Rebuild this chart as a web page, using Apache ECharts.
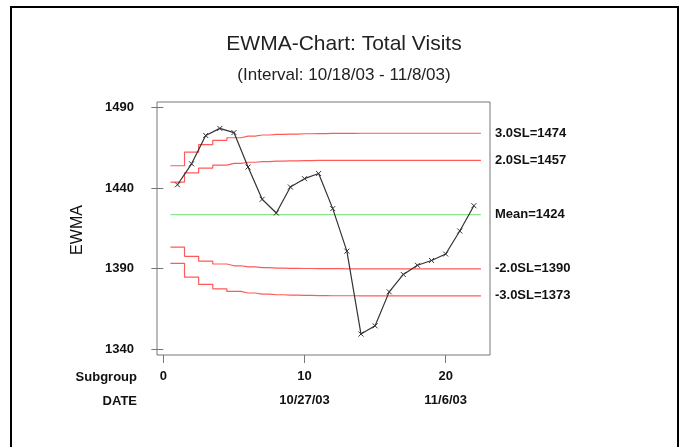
<!DOCTYPE html>
<html>
<head>
<meta charset="utf-8">
<script src="https://cdn.jsdelivr.net/npm/echarts@6/dist/echarts.min.js"></script>
<style>
html,body{margin:0;padding:0;background:#fff;}
#chart{width:683px;height:447px;}
</style>
</head>
<body>
<div id="chart"></div>
<script>
// ---- data ----
var subgroups = [1,2,3,4,5,6,7,8,9,10,11,12,13,14,15,16,17,18,19,20,21,22];
var ewma = [1442, 1455, 1472.6, 1477, 1474.4, 1453, 1433, 1424.5, 1440.6, 1445.8, 1449, 1427.2, 1400.8, 1349.3, 1354.4, 1375.5, 1386.3, 1392, 1395, 1399, 1413.3, 1429];
var ucl3 = [1453.8,1462.3,1466.9,1469.6,1471.2,1472.2,1472.9,1473.3,1473.5,1473.7,1473.8,1473.9,1473.9,1474,1474,1474,1474,1474,1474,1474,1474,1474];
var ucl2 = [1443.7,1449.4,1452.4,1454.2,1455.3,1456.0,1456.4,1456.7,1456.9,1457.0,1457.1,1457.1,1457.2,1457.2,1457.2,1457.2,1457.2,1457.2,1457.2,1457.2,1457.2,1457.2];
var meanLine = [1423.5,1423.5,1423.5,1423.5,1423.5,1423.5,1423.5,1423.5,1423.5,1423.5,1423.5,1423.5,1423.5,1423.5,1423.5,1423.5,1423.5,1423.5,1423.5,1423.5,1423.5,1423.5];
var lcl2 = [1403.3,1397.6,1394.6,1392.8,1391.7,1391.0,1390.6,1390.3,1390.1,1390.0,1389.9,1389.9,1389.8,1389.8,1389.8,1389.8,1389.8,1389.8,1389.8,1389.8,1389.8,1389.8];
var lcl3 = [1393.2,1384.7,1380.1,1377.4,1375.8,1374.8,1374.1,1373.7,1373.5,1373.3,1373.2,1373.1,1373.1,1373,1373,1373,1373,1373,1373,1373,1373,1373];
var limitLabels = ['3.0SL=1474','2.0SL=1457','Mean=1424','-2.0SL=1390','-3.0SL=1373'];
var xTicks = [0,10,20];
var yTicks = [1340,1390,1440,1490];
var dateTicks = [10,20];
var dateLabels = ['10/27/03','11/6/03'];

// ---- helpers ----
function stepData(arr){
  var d = [[subgroups[0]-0.5, arr[0]]];
  for (var i=0;i<arr.length;i++) d.push([subgroups[i], arr[i]]);
  d.push([subgroups[subgroups.length-1]+0.5, arr[arr.length-1]]);
  return d;
}
function limitSeries(arr, label, color){
  return {
    type:'line', data: stepData(arr), step:'middle', symbol:'none', silent:true,
    lineStyle:{color:color, width:1.2},
    endLabel:{show:true, formatter:label, distance:14, color:'#111', fontSize:13, fontWeight:'bold', fontFamily:'Liberation Sans, Arial, sans-serif'}
  };
}
var font = 'Liberation Sans, Arial, sans-serif';
var red = '#ff5a5a';
var green = '#8ae88a';

var chart = echarts.init(document.getElementById('chart'), null, {renderer:'canvas'});
chart.setOption({
  animation:false,
  backgroundColor:'#fff',
  grid:{left:157, top:102, width:333, height:253, show:true, borderColor:'#777', borderWidth:1, containLabel:false},
  xAxis:[{
    type:'value', min:-0.45, max:23.14,
    axisLine:{show:false},
    splitLine:{show:false},
    axisTick:{show:true, length:8, customValues:xTicks, lineStyle:{color:'#777'}},
    axisLabel:{customValues:xTicks, margin:15, color:'#111', fontSize:13, fontWeight:'bold', fontFamily:font,
      formatter:function(v){return String(v);}}
  },{
    type:'value', min:-0.45, max:23.14, position:'bottom', offset:25,
    axisLine:{show:false}, splitLine:{show:false}, axisTick:{show:false},
    axisLabel:{customValues:dateTicks, margin:14, color:'#111', fontSize:13, fontWeight:'bold', fontFamily:font,
      formatter:function(v){ var i = dateTicks.indexOf(v); return i>=0 ? dateLabels[i] : ''; }}
  }],
  yAxis:{
    type:'value', min:1336.3, max:1493.4,
    axisLine:{show:false},
    splitLine:{show:false},
    axisTick:{show:true, length:12, customValues:yTicks, lineStyle:{color:'#777'}},
    axisLabel:{customValues:yTicks, margin:23, color:'#111', fontSize:13, fontWeight:'bold', fontFamily:font,
      formatter:function(v){return String(v);}}
  },
  graphic:[
    {type:'rect', shape:{x:11, y:7, width:667, height:470}, style:{fill:'none', stroke:'#000', lineWidth:2}, silent:true},
    {type:'text', x:344, y:44, style:{text:'EWMA-Chart: Total Visits', fontSize:21, fontFamily:font, fill:'#222', align:'center', verticalAlign:'middle'}},
    {type:'text', x:344, y:75, style:{text:'(Interval: 10/18/03 - 11/8/03)', fontSize:17, fontFamily:font, fill:'#222', align:'center', verticalAlign:'middle'}},
    {type:'text', x:78, y:230, rotation:Math.PI/2, style:{text:'EWMA', fontSize:16, fontFamily:font, fill:'#111', align:'center', verticalAlign:'middle'}},
    {type:'text', x:137, y:377, style:{text:'Subgroup', fontSize:13, fontWeight:'bold', fontFamily:font, fill:'#111', align:'right', verticalAlign:'middle'}},
    {type:'text', x:137, y:401, style:{text:'DATE', fontSize:13, fontWeight:'bold', fontFamily:font, fill:'#111', align:'right', verticalAlign:'middle'}}
  ],
  series:[
    limitSeries(ucl3, limitLabels[0], red),
    limitSeries(ucl2, limitLabels[1], red),
    limitSeries(meanLine, limitLabels[2], green),
    limitSeries(lcl2, limitLabels[3], red),
    limitSeries(lcl3, limitLabels[4], red),
    {
      type:'line', data: subgroups.map(function(s,i){return [s, ewma[i]];}),
      symbol:'path://M0,0L10,10M10,0L0,10', symbolSize:5, showSymbol:true,
      itemStyle:{color:'#333', borderColor:'#333', borderWidth:1},
      lineStyle:{color:'#333', width:1.2}
    }
  ]
});
</script>
</body>
</html>
